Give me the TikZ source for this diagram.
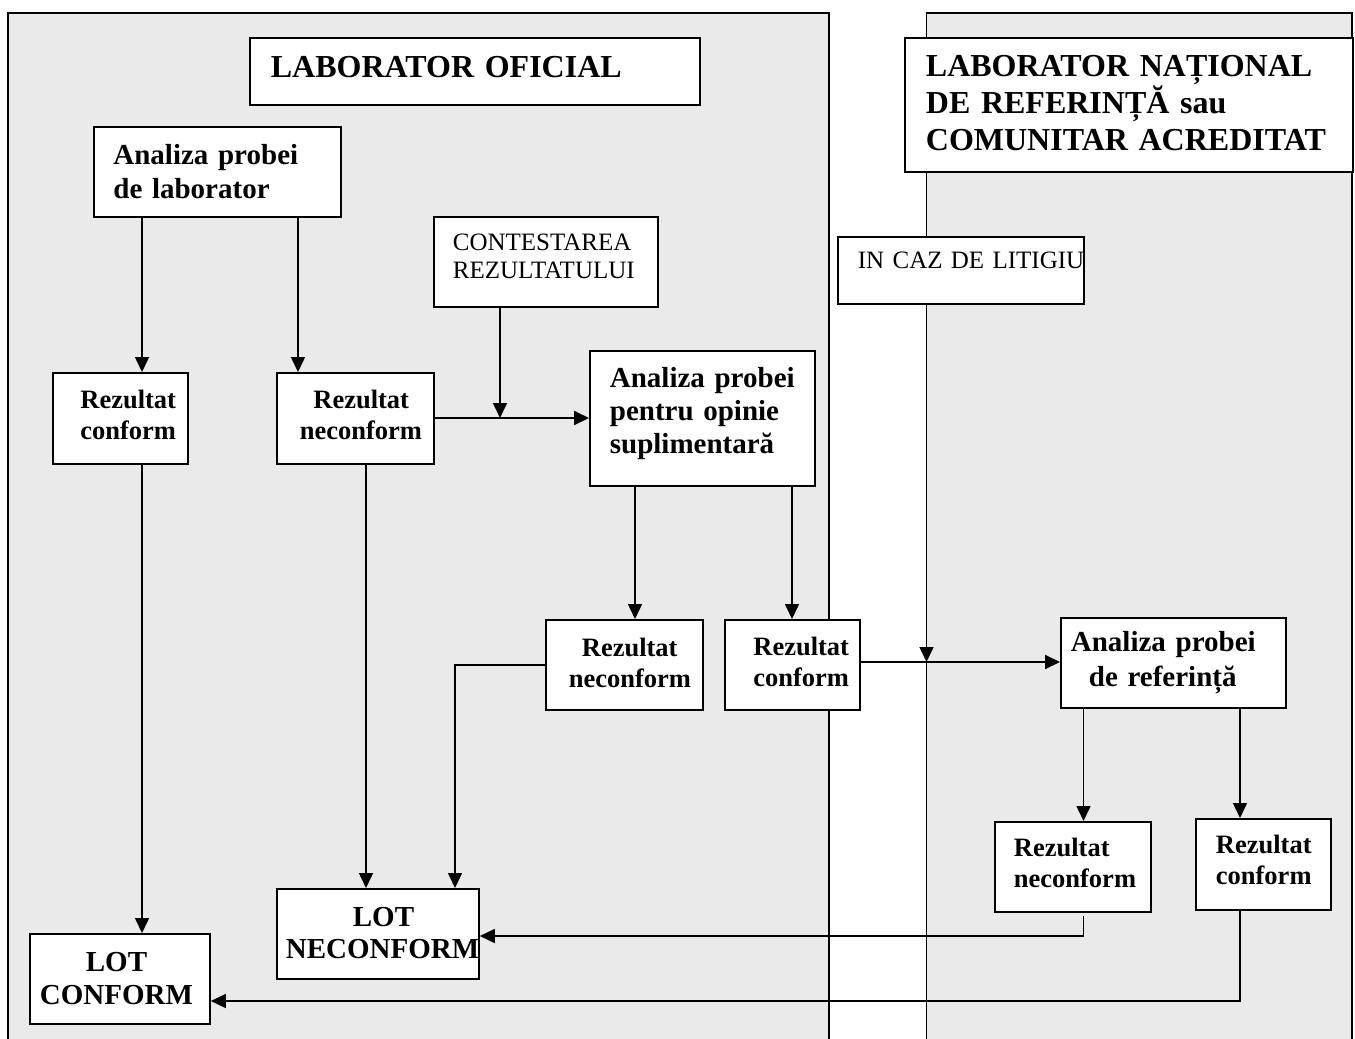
\documentclass[tikz,border=0pt]{standalone}
\usepackage{fontspec}
\setmainfont{Liberation Serif}
\usetikzlibrary{arrows.meta}
\newcommand\myind[1]{\hspace*{#1pt}}
\newcommand\mydp[1]{\rule[-#1pt]{0pt}{#1pt}}
\definecolor{panelgray}{RGB}{234,234,234}
\tikzset{
  bx/.style={draw=black, fill=white, line width=1.8pt, inner sep=0pt, anchor=north west, align=left},
  ftitle/.style={font=\fontsize{32pt}{37pt}\selectfont\bfseries},
  fbig/.style={font=\fontsize{29pt}{34pt}\selectfont\bfseries},
  fres/.style={font=\fontsize{26.5pt}{31pt}\selectfont\bfseries},
  freg/.style={font=\fontsize{25pt}{28pt}\selectfont},
  arr/.style={line width=1.5pt, -{Triangle[length=15pt,width=14pt]}},
  panelline/.style={line width=1.5pt}
}
\begin{document}
\begin{tikzpicture}[x=1pt,y=-1pt]
\useasboundingbox (0,0) rectangle (1355,1039);
\fill[white] (0,0) rectangle (1355,1039);
% panels
\fill[panelgray] (8,13) rectangle (829,1039);
\fill[panelgray] (926.5,13) rectangle (1352,1039);
\draw[panelline] (8,1039) -- (8,13) -- (829,13) -- (829,1039);
\draw[panelline] (926.5,1039) -- (926.5,13) -- (1352,13) -- (1352,1039);

% boxes
\node[bx, ftitle, minimum width=450pt, minimum height=67pt, text width=450pt] (lo) at (249,37)
  {\myind{21}\mbox{LABORATOR OFICIAL}\mydp{8}};
\node[bx, ftitle, minimum width=448pt, minimum height=134pt, text width=448pt] (nat) at (904,37)
  {\myind{21}\mbox{LABORATOR NAȚIONAL}\\\myind{21}\mbox{DE REFERINȚĂ sau}\\\myind{21}\mbox{COMUNITAR ACREDITAT}\mydp{3}};
\node[bx, fbig, minimum width=247pt, minimum height=90pt, text width=247pt] (a1) at (93,126)
  {\myind{19.5}\mbox{Analiza probei}\\\myind{19.5}\mbox{de laborator}};
\node[bx, freg, minimum width=224pt, minimum height=90pt, text width=224pt] (ct) at (433,216)
  {\myind{19}\mbox{CONTESTAREA}\\\myind{19}\mbox{REZULTATULUI}\mydp{10.5}};
\node[bx, freg, minimum width=246pt, minimum height=67pt, text width=246pt] (lit) at (837,236)
  {\myind{20}\mbox{IN CAZ DE LITIGIU}\mydp{19.5}};
\node[bx, fres, minimum width=135pt, minimum height=91pt, text width=135pt] (rc1) at (52,372)
  {\myind{27.5}\mbox{Rezultat}\\\myind{27.5}\mbox{conform}\mydp{7}};
\node[bx, fres, minimum width=157pt, minimum height=91pt, text width=157pt] (rn1) at (276,372)
  {\myind{36.5}\mbox{Rezultat}\\\myind{23}\mbox{neconform}\mydp{7}};
\node[bx, font=\fontsize{29pt}{33pt}\selectfont\bfseries, minimum width=225pt, minimum height=135pt, text width=225pt] (op) at (589,350)
  {\myind{20}\mbox{Analiza probei}\\\myind{20}\mbox{pentru opinie}\\\myind{20}\mbox{suplimentară}\mydp{15}};
\node[bx, fres, minimum width=157pt, minimum height=90pt, text width=157pt] (rn2) at (545,619)
  {\myind{36}\mbox{Rezultat}\\\myind{23}\mbox{neconform}\mydp{5}};
\node[bx, fres, minimum width=135pt, minimum height=90pt, text width=135pt] (rc2) at (724,619)
  {\myind{28.5}\mbox{Rezultat}\\\myind{28.5}\mbox{conform}\mydp{6}};
\node[bx, font=\fontsize{29pt}{35pt}\selectfont\bfseries, minimum width=225pt, minimum height=90pt, text width=225pt] (ref) at (1060,617)
  {\myind{10}\mbox{Analiza probei}\\\myind{28}\mbox{de referință}};
\node[bx, fres, minimum width=156pt, minimum height=90pt, text width=156pt] (rn3) at (994,821)
  {\myind{19}\mbox{Rezultat}\\\myind{19}\mbox{neconform}\mydp{8}};
\node[bx, fres, minimum width=135pt, minimum height=91pt, text width=135pt] (rc3) at (1195,818)
  {\myind{20}\mbox{Rezultat}\\\myind{20}\mbox{conform}\mydp{10}};
\node[bx, font=\fontsize{29pt}{32.5pt}\selectfont\bfseries, minimum width=202pt, minimum height=90pt, text width=202pt] (lnc) at (276,888)
  {\myind{76}\mbox{LOT}\\\myind{9}\mbox{NECONFORM}\mydp{2}};
\node[bx, font=\fontsize{29pt}{33pt}\selectfont\bfseries, minimum width=180pt, minimum height=90pt, text width=180pt] (lc) at (29,933)
  {\myind{56}\mbox{LOT}\\\myind{10}\mbox{CONFORM}\mydp{2}};

% junction coordinates
\coordinate (j1) at (500,418);
\coordinate (j2) at (926.5,662);
\coordinate (s3) at (1083.5,916);

% connectors
\draw[arr] (142,0 |- a1.south) -- (142,0 |- rc1.north);
\draw[arr] (298,0 |- a1.south) -- (298,0 |- rn1.north);
\draw[arr] (500,0 |- ct.south) -- (j1);
\draw[arr, line width=2pt] (rn1.east |- j1) -- (op.west |- j1);
\draw[arr] (635,0 |- op.south) -- (635,0 |- rn2.north);
\draw[arr] (792,0 |- op.south) -- (792,0 |- rc2.north);
\draw[arr] (142,0 |- rc1.south) -- (142,0 |- lc.north);
\draw[arr] (366,0 |- rn1.south) -- (366,0 |- lnc.north);
\draw[arr] (rn2.west) -| (455,0 |- lnc.north);
\draw[arr, line width=2pt] (rc2.east |- j2) -- (ref.west |- j2);
\draw[arr] (926.5,0 |- lit.south) -- (j2);
\draw[arr] (1083.5,0 |- ref.south) -- (1083.5,0 |- rn3.north);
\draw[arr] (1240,0 |- ref.south) -- (1240,0 |- rc3.north);
\draw[arr] (s3) |- (lnc.east |- 0,936);
\draw[arr] (1240,0 |- rc3.south) |- (lc.east |- 0,1001);
\end{tikzpicture}
\end{document}
